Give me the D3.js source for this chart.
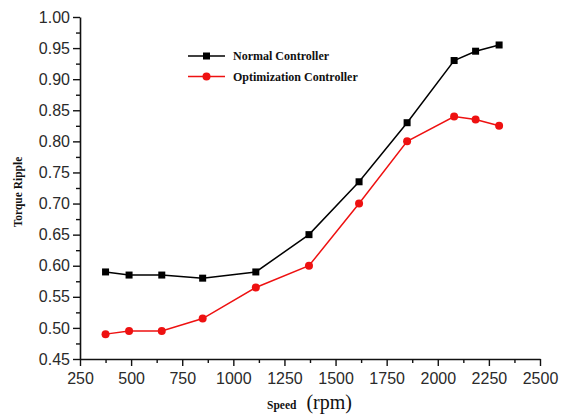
<!DOCTYPE html>
<html>
<head>
<meta charset="utf-8">
<script src="https://cdn.jsdelivr.net/npm/d3@7"></script>
<style>
  html, body { margin: 0; padding: 0; background: #fff; }
  svg { display: block; }
</style>
</head>
<body>
<svg id="chart" width="566" height="415"></svg>
<script>
// Speed (rpm) at each measurement
const speeds = [375, 490, 650, 850, 1110, 1370, 1615, 1850, 2080, 2185, 2300];
// Torque ripple per controller
const normalRipple = [0.59, 0.585, 0.585, 0.58, 0.59, 0.65, 0.735, 0.83, 0.93, 0.945, 0.955];
const optimizedRipple = [0.49, 0.495, 0.495, 0.515, 0.565, 0.60, 0.70, 0.80, 0.84, 0.835, 0.825];
// Axis ticks
const xTicks = [250, 500, 750, 1000, 1250, 1500, 1750, 2000, 2250, 2500];
const yTicks = [0.45, 0.50, 0.55, 0.60, 0.65, 0.70, 0.75, 0.80, 0.85, 0.90, 0.95, 1.00];
const seriesNames = ["Normal Controller", "Optimization Controller"];

const svg = d3.select("#chart");
const plotLeft = 80, plotRight = 540, plotTop = 17, plotBottom = 359;

const x = d3.scaleLinear().domain([250, 2500]).range([plotLeft, plotRight]);
const y = d3.scaleLinear().domain([0.45, 1.00]).range([plotBottom, plotTop]);

const labelFont = "'Liberation Sans', Arial, sans-serif";
const serif = "'Liberation Serif', 'Times New Roman', serif";

// minor ticks halfway between the labelled ones
const xMinor = d3.range(375, 2500, 250);
const yMinor = d3.range(0.475, 1.0, 0.05);

svg.append("g").attr("transform", `translate(0,${plotBottom})`)
  .call(d3.axisBottom(x).tickValues(xTicks).tickFormat(d3.format("d")).tickSize(7).tickPadding(7).tickSizeOuter(0));
svg.append("g").attr("transform", `translate(0,${plotBottom})`)
  .call(d3.axisBottom(x).tickValues(xMinor).tickFormat("").tickSize(4).tickSizeOuter(0))
  .select(".domain").remove();

svg.append("g").attr("transform", `translate(${plotLeft},0)`)
  .call(d3.axisLeft(y).tickValues(yTicks).tickFormat(d3.format(".2f")).tickSize(7).tickPadding(3).tickSizeOuter(0));
svg.append("g").attr("transform", `translate(${plotLeft},0)`)
  .call(d3.axisLeft(y).tickValues(yMinor).tickFormat("").tickSize(4).tickSizeOuter(0))
  .select(".domain").remove();

svg.selectAll(".domain").attr("stroke", "#111").attr("stroke-width", 1.6);
svg.selectAll(".tick line").attr("stroke", "#111").attr("stroke-width", 1.4);
svg.selectAll(".tick text")
  .attr("font-family", labelFont).attr("font-size", 16).attr("fill", "#2a2a2a");

// series
const series = [
  { name: seriesNames[0], values: normalRipple, color: "#000", marker: "square" },
  { name: seriesNames[1], values: optimizedRipple, color: "#ee1111", marker: "circle" }
];

const line = d3.line().x((d, i) => x(speeds[i])).y(d => y(d));

series.forEach(s => {
  svg.append("path").datum(s.values)
    .attr("d", line).attr("fill", "none")
    .attr("stroke", s.color).attr("stroke-width", 1.5);
  const g = svg.append("g");
  if (s.marker === "square") {
    g.selectAll("rect").data(s.values).join("rect")
      .attr("x", (d, i) => x(speeds[i]) - 3.5).attr("y", d => y(d) - 3.5)
      .attr("width", 7).attr("height", 7).attr("fill", s.color);
  } else {
    g.selectAll("circle").data(s.values).join("circle")
      .attr("cx", (d, i) => x(speeds[i])).attr("cy", d => y(d))
      .attr("r", 4).attr("fill", s.color);
  }
});

// legend
const legend = svg.append("g");
series.forEach((s, i) => {
  const ly = 56 + i * 20.5;
  legend.append("line").attr("x1", 188).attr("x2", 225).attr("y1", ly).attr("y2", ly)
    .attr("stroke", s.color).attr("stroke-width", 1.5);
  if (s.marker === "square") {
    legend.append("rect").attr("x", 206.5 - 3.5).attr("y", ly - 3.5)
      .attr("width", 7).attr("height", 7).attr("fill", s.color);
  } else {
    legend.append("circle").attr("cx", 206.5).attr("cy", ly).attr("r", 4).attr("fill", s.color);
  }
  legend.append("text").attr("x", 233).attr("y", ly + 4)
    .attr("font-family", serif).attr("font-weight", "bold").attr("font-size", 12)
    .attr("fill", "#111").text(s.name);
});

// axis titles
svg.append("text")
  .attr("transform", "translate(22,192) rotate(-90)")
  .attr("text-anchor", "middle")
  .attr("font-family", serif).attr("font-weight", "bold").attr("font-size", 11.5)
  .attr("fill", "#111").text("Torque Ripple");

const xt = svg.append("text").attr("x", 267).attr("y", 409)
  .attr("font-family", serif).attr("fill", "#111");
xt.append("tspan").attr("font-weight", "bold").attr("font-size", 11.5).text("Speed");
xt.append("tspan").attr("dx", 10).attr("font-size", 20).text("(rpm)");
</script>
</body>
</html>
